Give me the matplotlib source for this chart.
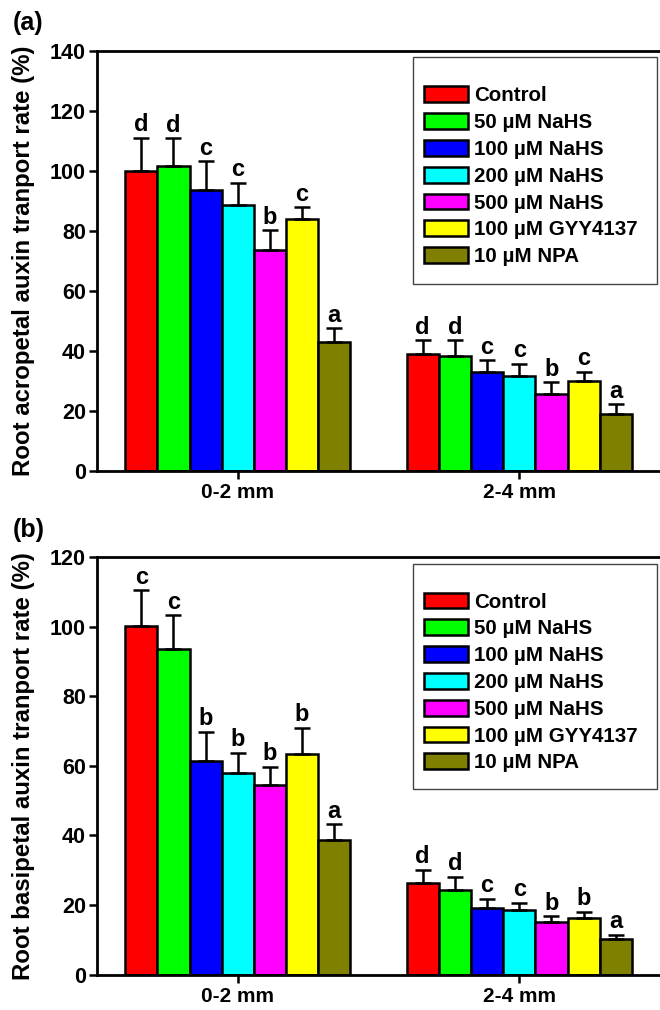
import matplotlib
matplotlib.use("Agg")
import matplotlib.pyplot as plt
from matplotlib.patches import Rectangle
import numpy as np

plt.rcParams['font.family'] = ['Liberation Sans', 'DejaVu Sans']
plt.rcParams['font.weight'] = 'bold'

treatments = ['Control', '50 µM NaHS', '100 µM NaHS', '200 µM NaHS',
              '500 µM NaHS', '100 µM GYY4137', '10 µM NPA']
colors = ['#FF0000', '#00FF00', '#0000FF', '#00FFFF', '#FF00FF', '#FFFF00', '#808000']
groups = ['0-2 mm', '2-4 mm']

# Panel (a): acropetal
acro_vals = [[100.0, 101.5, 93.5, 88.5, 73.5, 83.8, 43.0],
             [39.0, 38.3, 32.8, 31.7, 25.6, 30.0, 19.0]]
acro_err = [[11.0, 9.4, 9.6, 7.5, 6.6, 4.1, 4.4],
            [4.5, 5.2, 4.1, 3.9, 3.8, 3.0, 3.1]]
acro_letters = [['d', 'd', 'c', 'c', 'b', 'c', 'a'],
                ['d', 'd', 'c', 'c', 'b', 'c', 'a']]

# Panel (b): basipetal
basi_vals = [[100.2, 93.6, 61.4, 57.8, 54.6, 63.5, 38.8],
             [26.4, 24.2, 19.2, 18.7, 15.0, 16.2, 10.1]]
basi_err = [[10.2, 9.6, 8.4, 6.0, 5.2, 7.5, 4.5],
            [3.8, 3.9, 2.6, 2.0, 1.8, 1.9, 1.4]]
basi_letters = [['c', 'c', 'b', 'b', 'b', 'b', 'a'],
                ['d', 'd', 'c', 'c', 'b', 'b', 'a']]

fig = plt.figure(figsize=(6.6, 10.1), dpi=100)

def panel(rect, vals, errs, letters, ymax, ylabel, tag):
    ax = fig.add_axes(rect)
    n = len(treatments)
    w = 0.8 / n
    xg = np.arange(len(groups))
    for i in range(n):
        xs = xg - 0.4 + w * (i + 0.5)
        v = [vals[g][i] for g in range(len(groups))]
        e = [errs[g][i] for g in range(len(groups))]
        ax.bar(xs, v, width=w, color=colors[i], edgecolor='black',
               linewidth=1.8, label=treatments[i], zorder=2)
        ax.errorbar(xs, v, yerr=[np.zeros(len(e)), e], fmt='none',
                    ecolor='black', elinewidth=1.8, capsize=5.5,
                    capthick=1.8, zorder=3)
        for g in range(len(groups)):
            ax.annotate(letters[g][i], (xs[g], v[g] + e[g]),
                        xytext=(0, 1), textcoords='offset points',
                        ha='center', va='bottom', fontsize=17,
                        fontweight='bold')
    ax.set_xlim(-0.5, 1.5)
    ax.set_ylim(0, ymax)
    ax.set_yticks(np.arange(0, ymax + 1, 20))
    ax.set_xticks(xg)
    ax.set_xticklabels(groups)
    ax.tick_params(axis='both', direction='out', length=6, width=1.8,
                   labelsize=15.5, pad=2)
    ax.tick_params(axis='x', pad=3, labelsize=15)
    for lab in ax.get_xticklabels() + ax.get_yticklabels():
        lab.set_fontweight('bold')
    for s in ['left', 'bottom', 'top']:
        ax.spines[s].set_linewidth(2.0)
    ax.spines['right'].set_visible(False)
    ax.set_ylabel(ylabel, fontsize=17.3, fontweight='bold')
    ax.yaxis.set_label_coords(-0.11, 0.5)
    ax.add_patch(Rectangle((0.561, 0.444), 0.434, 0.540, transform=ax.transAxes,
                           fill=False, edgecolor='#444444', linewidth=1.0,
                           zorder=4, clip_on=False))
    leg = ax.legend(loc='upper left', bbox_to_anchor=(0.581, 0.915),
                    frameon=False, fontsize=14.8, handlelength=2.15,
                    handleheight=0.8, handletextpad=0.3, labelspacing=0.38,
                    borderpad=0, borderaxespad=0)
    for t in leg.get_texts():
        t.set_fontweight('bold')
    fig.text(0.02, rect[1] + rect[3] + 0.027, tag, fontsize=18,
             fontweight='bold', va='center', ha='left')
    return ax

panel([0.147, 0.5340, 0.853, 0.4158], acro_vals, acro_err, acro_letters, 140,
      'Root acropetal auxin tranport rate (%)', '(a)')
panel([0.147, 0.0350, 0.853, 0.4135], basi_vals, basi_err, basi_letters, 120,
      'Root basipetal auxin tranport rate (%)', '(b)')

fig.savefig('out.png', dpi=100)
